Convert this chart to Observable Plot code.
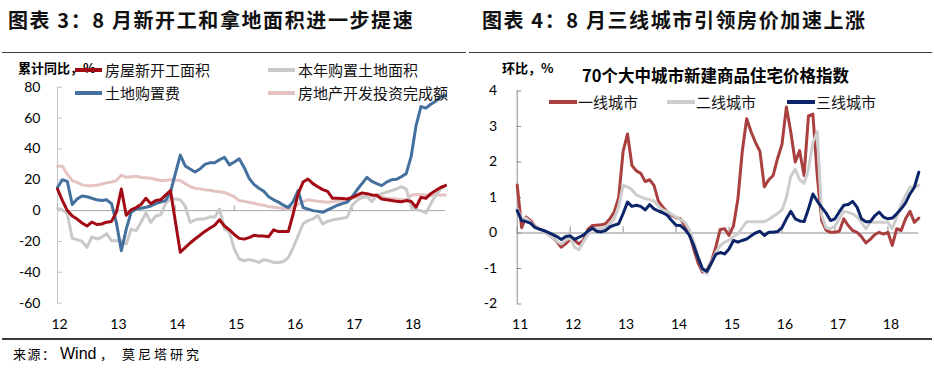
<!DOCTYPE html>
<html><head><meta charset="utf-8">
<script src="https://cdn.jsdelivr.net/npm/d3@7"></script>
<script src="https://cdn.jsdelivr.net/npm/@observablehq/plot@0.6"></script>
<style>
html,body{margin:0;padding:0;background:#fff;}
#root{position:relative;width:934px;height:368px;overflow:hidden;font-family:"Noto Sans CJK SC",sans-serif;color:#000;}
.abs{position:absolute;white-space:nowrap;}
.title{font-size:20px;font-weight:700;line-height:28px;top:6px;letter-spacing:1.6px;color:#111;}
.hr{position:absolute;background:#3c3c3c;}
.leg{font-size:15px;line-height:20px;color:#111;z-index:3;}
.sw{position:absolute;height:3.5px;z-index:3;}
.plotbox{position:absolute;top:56px;width:467px;height:280px;z-index:1;}
.unit{font-size:13px;font-weight:700;line-height:16px;z-index:2;}
</style></head><body><div id="root"></div>
<script>
// ---------- data ----------
const leftYearLabels = ["12","13","14","15","16","17","18"];
const leftYTicks = [-60,-40,-20,0,20,40,60,80];
const leftSeriesNames = ["房屋新开工面积","本年购置土地面积","土地购置费","房地产开发投资完成额"];
// monthly, Jan 2012 .. Aug 2018 (cumulative YoY, %)
const newStarts = [14,6.5,0,-3.5,-5.5,-8,-10,-7.5,-9,-8.7,
  -7.5,-7,-1,14,-3,0.5,2,4,8,4.5,
  6.5,7,10,13,-7,-27,-24,-21,-18.4,-16,
  -13.5,-11.5,-9.5,-6,-10,-12.5,-15.5,-18,-18.5,-17.5,
  -16,-16.5,-16.5,-16.9,-12.5,-13.6,-13.6,-13.6,-2,11,
  18.5,20.5,17.5,15.5,13.6,12.5,8,8,7.8,7.6,
  8.5,10,11.5,11,10.2,10,7.5,7,6.5,6,
  5.8,6.5,6,2.2,8.6,8,11,13,15,16.2];
const landArea = [1.5,0.5,-2,-18,-18.8,-20,-23.8,-17,-18.4,-17.3,
  -15,-19.5,-19.5,-19.5,-21.6,-12,-13,-7.6,-1.5,-7.6,
  -3.5,-2.8,4.5,8,7.5,7,3,-7.6,-6,-5.4,
  -5.4,-4,-4.3,1,-12,-14.1,-25,-31.4,-32.5,-31.8,
  -32.5,-33.6,-31.8,-32.5,-33.6,-33.6,-33,-30.5,-24,-16.2,
  -8.5,-6.5,-5.4,-3.2,-8.7,-7,-6,-5.4,-5,-4.3,
  3.5,6.5,8.5,9.2,5.8,9.8,11,11.9,13,14,
  15.5,14,3,0.5,0,-1.5,4.3,10,14,16.7];
const landFee = [15,20,19,4,7.5,9.5,9,8,7,6.5,
  7,4.5,-8,-26,-12,-1,1,1.5,2.2,3,
  4.5,5.5,6.5,12,24,36,29,27,25,27,
  30,31,31,33,34.6,29.7,31.5,33.6,28,21,
  17,14.5,12.5,9,7,5.5,3.5,2,6,13,
  2,1,0,-0.5,-1.1,0.5,2,3.5,4.5,5.5,
  9,13.5,17.5,21.6,19,17.5,16.2,18.5,20,20.3,
  22,24,35,55,67.5,66.5,69,71,73.6,74.7];
const investment = [28.8,28.8,23.5,19.5,18.3,16.7,16.2,16.2,16.5,17.3,
  18,18.5,19.5,23,21.6,22,22.3,21.5,21.3,21,
  20.2,19.5,19.6,20.2,19.8,19.5,17.5,15.6,14.5,14.1,
  13.6,13.2,12.6,12.3,11.8,10.4,9,6.5,6,5.4,
  4.8,3.9,3.5,2.6,2.2,1.8,1.3,1,2,4.3,
  6,7,6.5,6,5.8,5.5,5.8,6.2,6.6,7,
  8,8.8,9.5,9.5,9.3,9.2,8.8,8,7.8,7.6,
  7.2,7,9.9,10.4,10.3,10.2,9.7,10.2,10.1,10.1];

const rightYearLabels = ["11","12","13","14","15","16","17","18"];
const rightYTicks = [-2,-1,0,1,2,3,4];
const rightSeriesNames = ["一线城市","二线城市","三线城市"];
// monthly, Jan 2011 .. Aug 2018 (MoM, %)
const tier1 = [1.35,0.15,0.45,0.35,0.2,0.12,0.06,-0.03,-0.12,-0.25,
  -0.4,-0.3,-0.18,-0.2,-0.31,-0.2,0.1,0.21,0.22,0.23,
  0.26,0.4,0.6,1.0,2.3,2.79,1.9,1.75,1.68,1.45,
  1.5,1.34,0.9,0.73,0.6,0.5,0.43,0.4,0.2,0.0,
  -0.45,-0.85,-1.1,-1.05,-0.8,-0.4,0.1,0.12,-0.07,0.2,
  0.95,2.3,3.22,2.85,2.55,2.3,1.3,1.5,1.62,2.1,
  2.5,3.55,2.84,2.0,2.32,1.62,3.3,3.35,1.6,0.35,
  0.08,0.02,0.02,0.05,0.4,0.21,0.07,0.02,-0.1,-0.28,
  -0.18,-0.05,0.02,-0.03,0.02,-0.35,0.12,0.07,0.4,0.61,
  0.3,0.42];
const tier2 = [0.68,0.4,0.42,0.3,0.2,0.12,0.05,-0.02,-0.12,-0.24,
  -0.31,-0.2,-0.13,-0.4,-0.47,-0.25,-0.05,0.12,0.12,0.12,
  0.17,0.25,0.4,0.75,1.34,1.3,1.22,1.07,1.02,0.97,
  0.94,0.9,0.75,0.65,0.6,0.53,0.45,0.38,0.3,0.1,
  -0.25,-0.65,-1.05,-1.15,-0.82,-0.55,-0.35,-0.26,-0.2,-0.1,
  -0.03,0.15,0.32,0.32,0.32,0.32,0.32,0.38,0.47,0.55,
  0.65,1.0,1.6,1.8,1.5,1.4,1.8,2.55,2.85,0.5,
  0.15,0.12,0.2,0.4,0.61,0.58,0.54,0.45,0.3,0.12,
  0.3,0.3,0.3,0.3,0.3,0.12,0.45,0.8,1.06,1.29,
  1.3,1.34];
const tier3 = [0.63,0.35,0.32,0.28,0.16,0.11,0.07,0.02,-0.04,-0.1,
  -0.18,-0.1,-0.08,-0.18,-0.12,-0.06,0.05,0.14,0.05,0.03,
  0.07,0.17,0.22,0.26,0.55,0.87,0.75,0.78,0.75,0.65,
  0.8,0.68,0.62,0.57,0.5,0.35,0.22,0.21,0.1,-0.06,
  -0.35,-0.7,-1.01,-1.08,-0.85,-0.6,-0.55,-0.59,-0.45,-0.21,
  -0.26,-0.21,-0.17,-0.08,0.0,0.05,-0.07,0.02,0.02,0.04,
  0.15,0.4,0.61,0.4,0.34,0.32,0.68,1.1,0.9,0.72,
  0.56,0.35,0.4,0.6,0.78,0.8,0.89,0.73,0.4,0.32,
  0.32,0.48,0.59,0.45,0.4,0.42,0.54,0.68,0.85,1.1,
  1.29,1.71];

// ---------- styles ----------
const leftColors = ["#A20A14","#C9C9C9","#44709E","#E5C3C3"];
const rightColors = ["#A9403F","#CDCDCD","#0C2468"];

const root = document.getElementById("root");
function el(cls, html, css) {
  const d = document.createElement("div");
  d.className = cls; d.innerHTML = html; Object.assign(d.style, css); root.appendChild(d); return d;
}

// titles and rules
el("abs title", "图表 3：8 月新开工和拿地面积进一步提速", {left: "8px"});
el("abs title", "图表 4：8 月三线城市引领房价加速上涨", {left: "482px"});
el("hr", "", {left: "2px", top: "51.5px", width: "464px", height: "1.3px"});
el("hr", "", {left: "469px", top: "51.5px", width: "463px", height: "1.3px"});
el("hr", "", {left: "2px", top: "338px", width: "930px", height: "1.6px"});

// source
el("abs", "来源：", {left: "13px", top: "344px", fontSize: "13px", lineHeight: "20px", letterSpacing: "1.5px"});
el("abs", "Wind", {left: "60px", top: "344px", fontSize: "16px", lineHeight: "20px", fontFamily: "'Liberation Sans',Arial,sans-serif"});
el("abs", "，", {left: "100px", top: "344px", fontSize: "13px", lineHeight: "20px"});
el("abs", "莫尼塔研究", {left: "122px", top: "344px", fontSize: "13px", lineHeight: "20px", letterSpacing: "3px"});

const fmt = d => String(d);

// ---------- left chart ----------
const idx = (d, i) => i;
const leftTickMonths = leftYearLabels.map((_, i) => i * 12);
const leftPlot = Plot.plot({
  width: 467, height: 280,
  marginLeft: 57, marginRight: 22, marginTop: 30.8, marginBottom: 33.4,
  x: {domain: [0, newStarts.length - 1]},
  y: {domain: [-60, 80]},
  style: {fontFamily: "Lato, 'Open Sans', sans-serif", fontSize: "14px", color: "#000", background: "transparent", overflow: "visible"},
  marks: [
    Plot.ruleY([0], {stroke: "#A6A6A6", strokeWidth: 1}),
    Plot.ruleX(leftTickMonths, {x: d => d, y1: 0, y2: 3.2, stroke: "#A6A6A6"}),
    Plot.ruleX([0], {y1: -60, y2: 80, stroke: "#C4C4C4"}),
    Plot.ruleY(leftYTicks, {y: d => d, x1: 0, x2: 1, stroke: "#C4C4C4"}),
    Plot.line(investment, {x: idx, y: d => d, stroke: leftColors[3], strokeWidth: 3}),
    Plot.line(landArea, {x: idx, y: d => d, stroke: leftColors[1], strokeWidth: 3}),
    Plot.line(landFee, {x: idx, y: d => d, stroke: leftColors[2], strokeWidth: 3}),
    Plot.line(newStarts, {x: idx, y: d => d, stroke: leftColors[0], strokeWidth: 3}),
    Plot.axisY({ticks: leftYTicks, tickFormat: fmt, tickSize: 0, tickPadding: 17, label: null}),
    Plot.axisX({ticks: leftTickMonths, tickFormat: d => leftYearLabels[leftTickMonths.indexOf(d)], tickSize: 0, tickPadding: 16, label: null, dx: 2})
  ]
});
const lbox = el("plotbox", "", {left: "0px"});
lbox.appendChild(leftPlot);

el("abs unit", "累计同比，%", {left: "18px", top: "60px"});
const leftLegendPos = [[75, 70], [268, 70], [75, 93], [268, 93]];
leftSeriesNames.forEach((name, i) => {
  const [x, y] = leftLegendPos[i];
  el("sw", "", {left: x + "px", top: (y - 1.75) + "px", width: "27px", background: leftColors[i]});
  el("abs leg", name, {left: (x + 30) + "px", top: (y - 10) + "px"});
});

// ---------- right chart ----------
const rightTickMonths = rightYearLabels.map((_, i) => i * 12);
const rightPlot = Plot.plot({
  width: 467, height: 280,
  marginLeft: 49.7, marginRight: 15.7, marginTop: 34.5, marginBottom: 32.5,
  x: {domain: [0, tier1.length - 1]},
  y: {domain: [-2, 4]},
  style: {fontFamily: "Lato, 'Open Sans', sans-serif", fontSize: "14px", color: "#000", background: "transparent", overflow: "visible"},
  marks: [
    Plot.ruleY([0], {stroke: "#8C8C8C", strokeWidth: 1}),
    Plot.ruleX(rightTickMonths, {x: d => d, y1: 0, y2: 0.17, stroke: "#8C8C8C"}),
    Plot.ruleX([0], {y1: -2, y2: 4, stroke: "#8C8C8C"}),
    Plot.ruleY(rightYTicks, {y: d => d, x1: 0, x2: 1, stroke: "#8C8C8C"}),
    Plot.line(tier1, {x: idx, y: d => d, stroke: rightColors[0], strokeWidth: 3}),
    Plot.line(tier2, {x: idx, y: d => d, stroke: rightColors[1], strokeWidth: 3}),
    Plot.line(tier3, {x: idx, y: d => d, stroke: rightColors[2], strokeWidth: 3}),
    Plot.axisY({ticks: rightYTicks, tickFormat: fmt, tickSize: 0, tickPadding: 20, label: null}),
    Plot.axisX({ticks: rightTickMonths, tickFormat: d => rightYearLabels[rightTickMonths.indexOf(d)], tickSize: 0, tickPadding: 15, label: null, dx: 3})
  ]
});
const rbox = el("plotbox", "", {left: "467px"});
rbox.appendChild(rightPlot);

el("abs unit", "环比，%", {left: "502px", top: "60px"});
el("abs", "70个大中城市新建商品住宅价格指数", {left: "582px", top: "63px", fontSize: "16.5px", fontWeight: "700", lineHeight: "24px", zIndex: 2});
const rightLegendX = [549, 667, 787];
rightSeriesNames.forEach((name, i) => {
  const x = rightLegendX[i], y = 102;
  el("sw", "", {left: x + "px", top: (y - 1.75) + "px", width: "28px", background: rightColors[i]});
  el("abs leg", name, {left: (x + 29) + "px", top: (y - 10) + "px"});
});
</script></body></html>
